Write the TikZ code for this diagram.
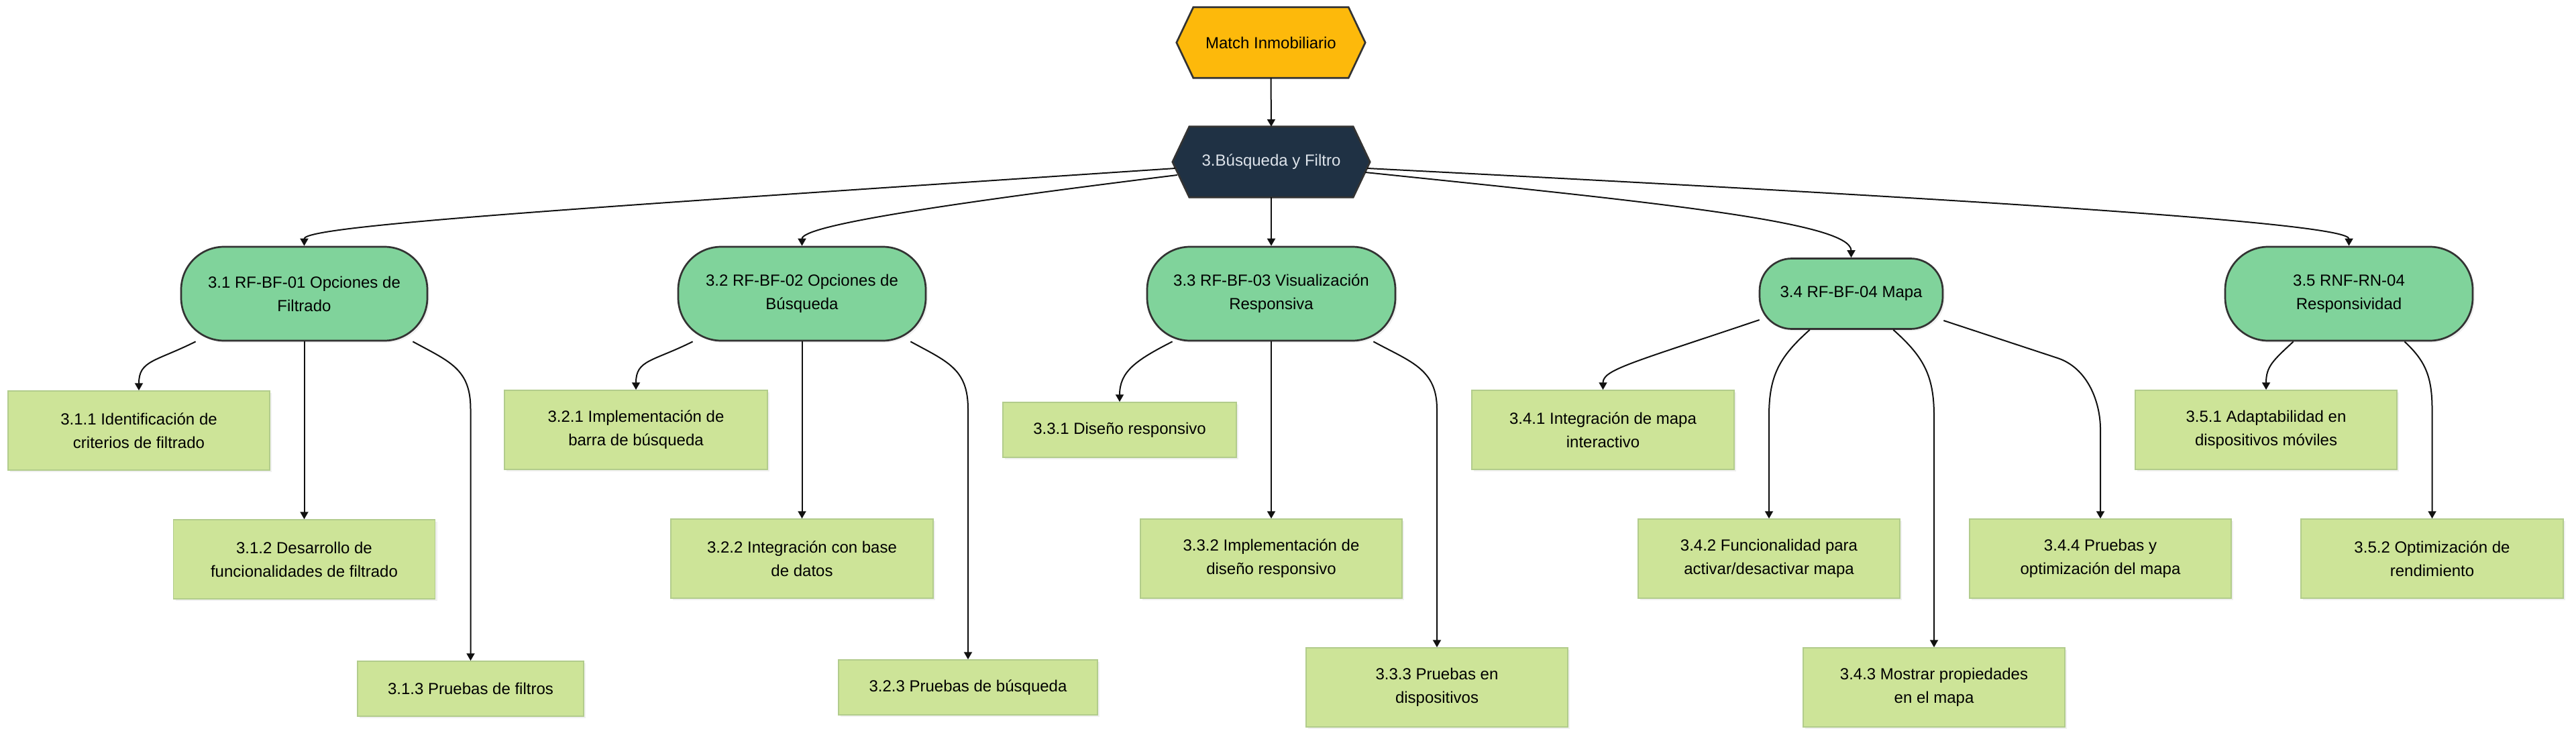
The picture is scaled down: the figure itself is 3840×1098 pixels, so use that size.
\documentclass[tikz,border=0pt]{standalone}
\usepackage{fontspec}
\setmainfont{Liberation Sans}
\usetikzlibrary{arrows.meta,calc,shadows,backgrounds}
\definecolor{gold}{RGB}{253,185,11}
\definecolor{navy}{RGB}{31,49,68}
\definecolor{navytext}{RGB}{222,228,235}
\definecolor{mint}{RGB}{128,211,155}
\definecolor{lime}{RGB}{205,228,152}
\definecolor{limeborder}{RGB}{178,204,140}
\definecolor{ink}{RGB}{51,51,51}
\definecolor{wire}{RGB}{17,17,17}
\tikzset{
  txt/.style={font=\fontsize{24}{35}\selectfont, align=center, inner sep=0pt},
  hexnode/.style={txt, minimum width=#1, minimum height=105pt},
  hexline/.style={draw=ink, line width=2.7pt, line join=miter},
  lvl/.style={txt, draw=ink, line width=2.7pt, fill=mint, rounded corners=64pt,
    minimum height=140pt, minimum width=#1,
    drop shadow={shadow xshift=3pt, shadow yshift=-3pt, opacity=0.12}},
  leaf/.style={txt, draw=limeborder, line width=1.5pt, fill=lime,
    minimum height=118pt, minimum width=#1,
    drop shadow={shadow xshift=3pt, shadow yshift=-3pt, opacity=0.12}},
  conn/.style={draw=wire, line width=2pt, -{Triangle[length=11pt,width=12pt]}},
}
\begin{document}
\begin{tikzpicture}[x=1pt,y=-1pt]
\useasboundingbox (0,0) rectangle (3840,1098);

% top hexagons
\node[hexnode=281pt] (mi) at (1894.5,63.5) {Match Inmobiliario};
\node[hexnode=294pt, text=navytext] (b) at (1895,241.5) {3.Búsqueda y Filtro};
\begin{scope}[on background layer]
  \draw[hexline, fill=gold] (mi.west) -- ([xshift=25pt]mi.north west) -- ([xshift=-25pt]mi.north east)
    -- (mi.east) -- ([xshift=-25pt]mi.south east) -- ([xshift=25pt]mi.south west) -- cycle;
  \draw[hexline, fill=navy] (b.west) -- ([xshift=25pt]b.north west) -- ([xshift=-25pt]b.north east)
    -- (b.east) -- ([xshift=-25pt]b.south east) -- ([xshift=25pt]b.south west) -- cycle;
\end{scope}

% level 1
\node[lvl=367pt] (n1) at (453.5,438) {3.1 RF-BF-01 Opciones de\\Filtrado};
\node[lvl=369pt] (n2) at (1195.5,438) {3.2 RF-BF-02 Opciones de\\Búsqueda};
\node[lvl=370pt] (n3) at (1895,438) {3.3 RF-BF-03 Visualización\\Responsiva};
\node[lvl=273pt, minimum height=105pt, rounded corners=48pt] (n4) at (2759.5,438) {3.4 RF-BF-04 Mapa};
\node[lvl=369pt] (n5) at (3501.5,438) {3.5 RNF-RN-04\\Responsividad};

% leaves
\node[leaf=390pt] (b11) at (207,642) {3.1.1 Identificación de\\criterios de filtrado};
\node[leaf=390pt] (b12) at (453.5,834) {3.1.2 Desarrollo de\\funcionalidades de filtrado};
\node[leaf=337pt, minimum height=82pt] (b13) at (701.5,1027) {3.1.3 Pruebas de filtros};
\node[leaf=392pt] (b21) at (948,641) {3.2.1 Implementación de\\barra de búsqueda};
\node[leaf=391pt] (b22) at (1195.5,833) {3.2.2 Integración con base\\de datos};
\node[leaf=386pt, minimum height=82pt] (b23) at (1443,1025) {3.2.3 Pruebas de búsqueda};
\node[leaf=348pt, minimum height=82pt] (b31) at (1669,641) {3.3.1 Diseño responsivo};
\node[leaf=390pt] (b32) at (1895,833) {3.3.2 Implementación de\\diseño responsivo};
\node[leaf=390pt] (b33) at (2142,1025) {3.3.3 Pruebas en\\dispositivos};
\node[leaf=391pt] (b41) at (2389.5,641) {3.4.1 Integración de mapa\\interactivo};
\node[leaf=390pt] (b42) at (2637,833) {3.4.2 Funcionalidad para\\activar/desactivar mapa};
\node[leaf=390pt] (b43) at (2883,1025) {3.4.3 Mostrar propiedades\\en el mapa};
\node[leaf=390pt] (b44) at (3131,833) {3.4.4 Pruebas y\\optimización del mapa};
\node[leaf=390pt] (b51) at (3378,641) {3.5.1 Adaptabilidad en\\dispositivos móviles};
\node[leaf=391pt] (b52) at (3625.5,833) {3.5.2 Optimización de\\rendimiento};

% top connectors
\draw[conn] (mi.south) -- (b.north);
\draw[conn] ($(b.west)+(4,9.5)$) .. controls +(-900,60) and +(0,-30) .. (n1.north);
\draw[conn] ($(b.west)+(7,19.5)$) .. controls +(-355,44) and +(0,-30) .. (n2.north);
\draw[conn] (b.south) -- (n3.north);
\draw[conn] ($(b.east)+(-7,15.5)$) .. controls +(415,43) and +(0,-54) .. (n4.north);
\draw[conn] ($(b.east)+(-4,9.5)$) .. controls +(962,49) and +(0,-33) .. (n5.north);

% 3.1
\draw[conn] ($(n1.south west)+(23,0)$) .. controls +(-60,30) and +(0,-45) .. (b11.north);
\draw[conn] (n1.south) -- (b12.north);
\draw[conn] ($(n1.south east)+(-23,0)$) .. controls +(55,30) and +(0,-60) .. (b13.north |- 0,610) -- (b13.north);
% 3.2
\draw[conn] ($(n2.south west)+(23,0)$) .. controls +(-60,30) and +(0,-45) .. (b21.north);
\draw[conn] (n2.south) -- (b22.north);
\draw[conn] ($(n2.south east)+(-24,0)$) .. controls +(55,30) and +(0,-60) .. (b23.north |- 0,610) -- (b23.north);
% 3.3
\draw[conn] ($(n3.south west)+(39,0)$) .. controls +(-55,28) and +(0,-45) .. (b31.north);
\draw[conn] (n3.south) -- (b32.north);
\draw[conn] ($(n3.south east)+(-34,0)$) .. controls +(55,30) and +(0,-60) .. (b33.north |- 0,610) -- (b33.north);
% 3.4
\draw[conn] ($(n4.west)+(1,39)$) .. controls +(-190,64) and +(0,-30) .. (b41.north);
\draw[conn] ($(n4.south west)+(76,0)$) .. controls +(-45,40) and +(0,-60) .. (b42.north |- 0,620) -- (b42.north);
\draw[conn] ($(n4.south east)+(-75,0)$) .. controls +(45,40) and +(0,-60) .. (b43.north |- 0,620) -- (b43.north);
\draw[conn] ($(n4.east)+(0,40)$) -- +(170,56) .. controls +(45,15) and +(0,-40) .. (b44.north |- 0,640) -- (b44.north);
% 3.5
\draw[conn] ($(n5.south west)+(103,0)$) .. controls +(-30,28) and +(0,-35) .. (b51.north);
\draw[conn] ($(n5.south east)+(-103,0)$) .. controls +(30,28) and +(0,-50) .. (b52.north |- 0,610) -- (b52.north);
\end{tikzpicture}
\end{document}
